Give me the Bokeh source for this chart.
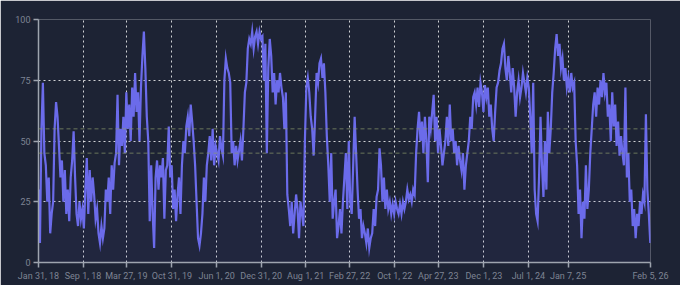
import pandas as pd
from bokeh.plotting import figure
from bokeh.models import FixedTicker, Span, Range1d, ColumnDataSource
from bokeh.embed import file_html
from bokeh.resources import INLINE

# Weekly index values (0-100), starting Jan 31, 2018
fg_part1 = [30, 8, 55, 74, 45, 40, 25, 35, 12, 20,
            25, 55, 66, 60, 48, 35, 42, 25, 38, 20,
            30, 17, 35, 42, 54, 35, 20, 15, 25, 18,
            22, 14, 30, 43, 20, 38, 25, 35, 28, 18,
            22, 12, 8, 15, 10, 14, 30, 25, 35, 20,
            40, 30, 41, 45, 69, 40, 55, 48, 60, 45,
            70, 55, 65, 50, 72, 60, 78, 62, 70, 50,
            72, 85, 95, 80, 60, 50, 17, 40, 20, 6,
            35, 42, 30, 40, 35, 43, 18, 38, 40, 56,
            35, 40, 22, 30, 17, 28, 35, 20, 40, 50]
fg_part2 = [45, 56, 60, 52, 65, 58, 50, 40, 25, 10,
            7, 12, 20, 35, 25, 40, 45, 52, 42, 55,
            40, 48, 45, 42, 52, 47, 44, 75, 84, 80,
            78, 74, 45, 50, 40, 48, 42, 46, 50, 42,
            55, 70, 74, 88, 92, 90, 95, 88, 93, 95,
            90, 95, 92, 93, 75, 90, 45, 80, 92, 85,
            70, 78, 65, 75, 70, 78, 72, 68, 55, 70,
            28, 22, 15, 25, 12, 20, 28, 22, 10, 25,
            20, 15, 50, 72, 76, 70, 60, 55, 44, 60,
            78, 74, 82, 84, 76, 82, 70, 52, 40, 25]
fg_part3 = [45, 18, 25, 30, 10, 15, 22, 12, 25, 35,
            45, 22, 50, 25, 20, 40, 60, 45, 30, 18,
            22, 10, 15, 12, 8, 14, 6, 10, 12, 22,
            15, 27, 30, 47, 40, 25, 35, 22, 30, 22,
            25, 20, 24, 20, 25, 22, 20, 24, 20, 25,
            22, 25, 30, 26, 28, 25, 30, 28, 45, 55,
            62, 50, 58, 45, 60, 50, 33, 60, 55, 62,
            69, 50, 60, 45, 55, 48, 40, 45, 50, 60,
            48, 65, 50, 55, 45, 50, 40, 48, 42, 38,
            45, 30, 40, 45, 50, 60, 55, 68, 70, 65]
fg_part4 = [72, 64, 74, 70, 62, 73, 68, 72, 60, 65,
            55, 50, 62, 72, 74, 79, 82, 88, 90, 80,
            75, 85, 78, 70, 80, 72, 60, 70, 75, 68,
            72, 78, 74, 70, 76, 72, 60, 45, 74, 30,
            20, 17, 35, 60, 40, 27, 50, 30, 62, 45,
            55, 70, 78, 88, 94, 85, 90, 80, 84, 75,
            80, 72, 76, 70, 78, 72, 74, 50, 40, 20,
            30, 10, 25, 18, 40, 22, 30, 45, 55, 65,
            70, 60, 72, 65, 75, 68, 78, 70, 74, 60,
            65, 50, 70, 56, 65, 48, 58, 44, 52, 45,
            40, 72, 35, 45, 25, 30, 15, 22, 10, 20,
            15, 25, 20, 28, 25, 61, 30, 20, 8]

start_date = "2018-01-31"
end_date = "2026-02-05"
tick_dates = ["2018-01-31", "2018-09-01", "2019-03-27", "2019-10-31", "2020-06-01",
              "2020-12-31", "2021-08-01", "2022-02-27", "2022-10-01", "2023-04-27",
              "2023-12-01", "2024-07-01", "2025-01-07", "2026-02-05"]
tick_labels = ["Jan 31, 18", "Sep 1, 18", "Mar 27, 19", "Oct 31, 19", "Jun 1, 20",
               "Dec 31, 20", "Aug 1, 21", "Feb 27, 22", "Oct 1, 22", "Apr 27, 23",
               "Dec 1, 23", "Jul 1, 24", "Jan 7, 25", "Feb 5, 26"]
y_ticks = [0, 25, 50, 75, 100]
band_levels = [45, 55]

values = fg_part1 + fg_part2 + fg_part3 + fg_part4
dates = pd.date_range(start_date, periods=len(values), freq="7D")
src = ColumnDataSource(dict(x=dates, y=values, y0=[0] * len(values)))

def ms(s):
    return pd.Timestamp(s).value // 10**6

BG = "#1d2334"
LINE = "#6b6bea"
TXT = "#7e8493"
AX = "#9ea4ae"

p = figure(width=680, height=285, x_axis_type="datetime", output_backend="svg",
           toolbar_location=None,
           x_range=Range1d(ms(start_date), ms(end_date)), y_range=Range1d(0, 100),
           min_border_left=38, min_border_right=30, min_border_top=19, min_border_bottom=23)
p.background_fill_color = BG
p.border_fill_color = BG
p.outline_line_color = None

p.varea(x="x", y1="y0", y2="y", source=src, fill_color=LINE, fill_alpha=0.06)
p.line(x="x", y="y", source=src, line_color=LINE, line_width=2.2, line_join="miter")

for lv in band_levels:
    p.add_layout(Span(location=lv, dimension="width", line_color="#8c9a6c",
                      line_alpha=0.7, line_dash="4 3", line_width=1))

xt = [ms(d) for d in tick_dates]
p.xaxis.ticker = FixedTicker(ticks=xt)
p.xaxis.major_label_overrides = {t: l for t, l in zip(xt, tick_labels)}
p.yaxis.ticker = FixedTicker(ticks=y_ticks)
p.xgrid.ticker = FixedTicker(ticks=xt)
p.ygrid.ticker = FixedTicker(ticks=y_ticks)

for g in (p.xgrid, p.ygrid):
    g.grid_line_color = "#ffffff"
    g.grid_line_alpha = 0.8
    g.grid_line_dash = "2 3"
    g.grid_line_width = 1

for ax in (p.xaxis, p.yaxis):
    ax.axis_line_color = AX
    ax.axis_line_width = 1.5
    ax.major_tick_line_color = AX
    ax.major_tick_line_width = 1.5
    ax.major_tick_out = 5
    ax.major_tick_in = 0
    ax.minor_tick_line_color = None
    ax.major_label_text_color = TXT
    ax.major_label_text_font = "Roboto"
    ax.major_label_text_font_size = "9px"
    ax.major_label_standoff = 3

open("out.html", "w").write(file_html(p, INLINE))
